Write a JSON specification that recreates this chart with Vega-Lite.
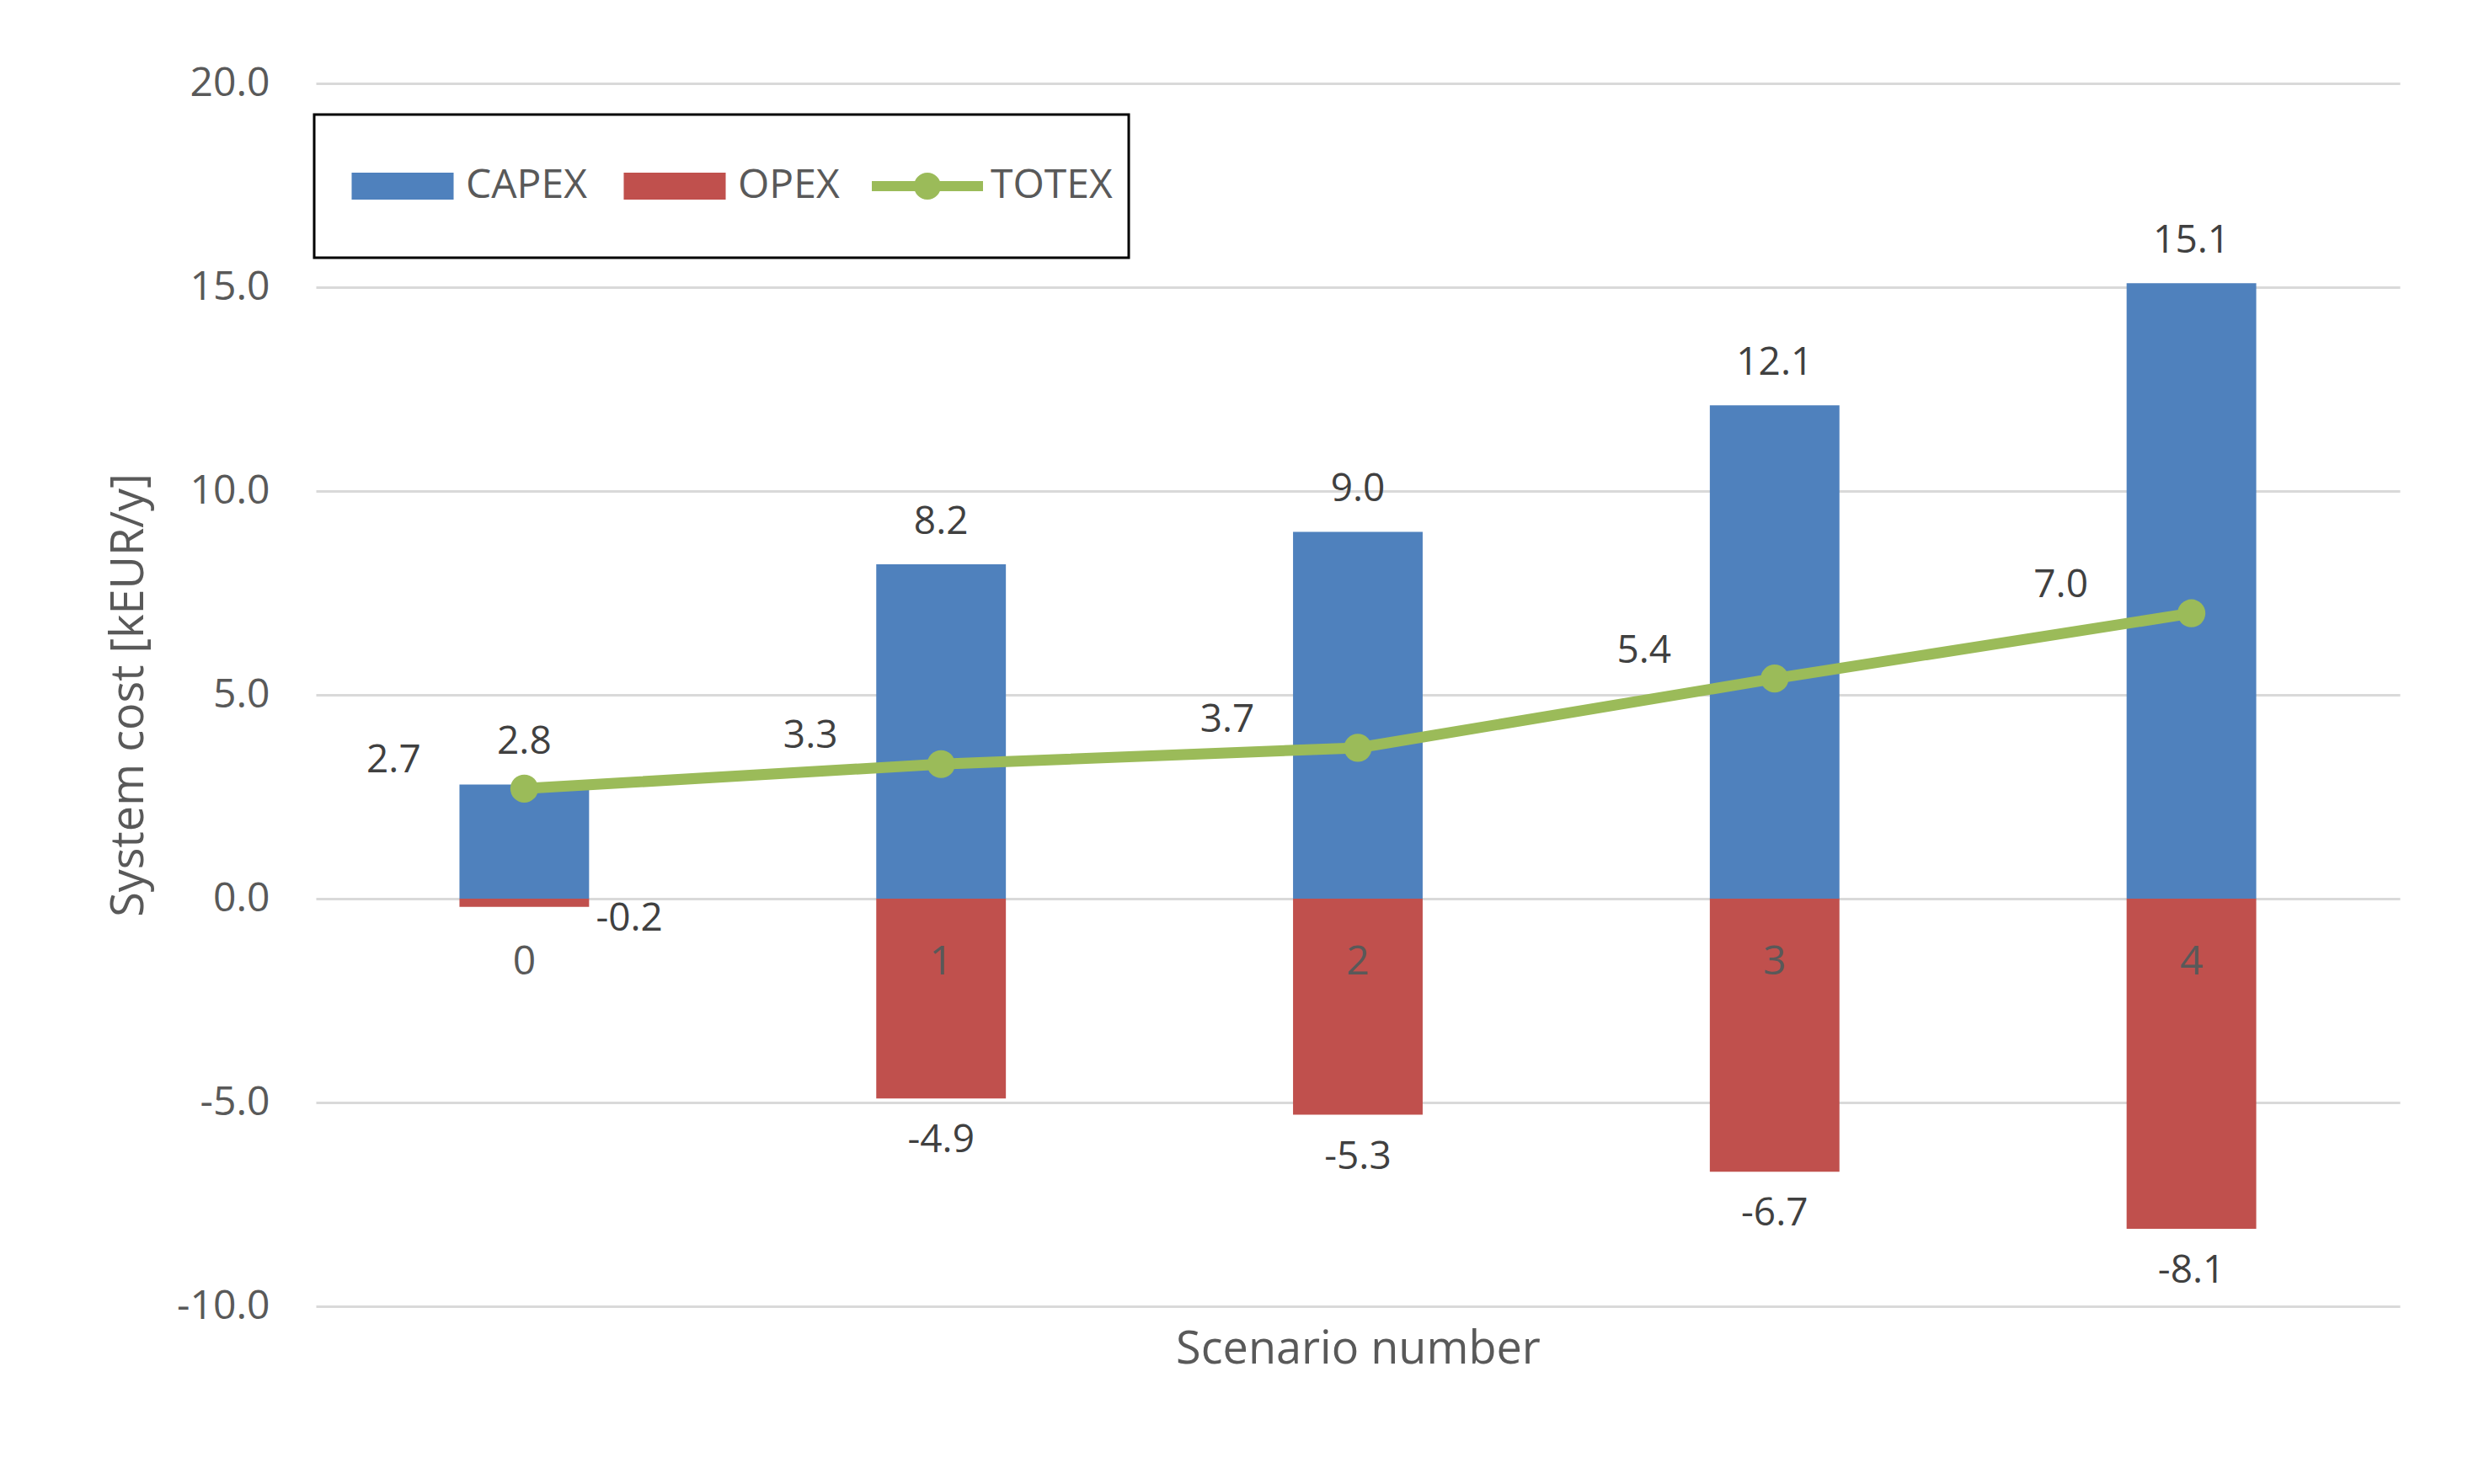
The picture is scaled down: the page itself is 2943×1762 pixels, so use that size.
{
  "$schema": "https://vega.github.io/schema/vega-lite/v6.json",
  "autosize": {"type": "none"},
  "width": 2474,
  "height": 1452,
  "padding": {"left": 375, "top": 99, "right": 94, "bottom": 211},
  "background": "white",
  "config": {
    "font": "Open Sans",
    "view": {"stroke": null},
    "locale": {
      "number": {"decimal": ".", "thousands": ",", "grouping": [3], "currency": ["", ""], "minus": "-"}
    }
  },
  "data": {
    "values": [
      {"scenario": "0", "series": "CAPEX", "value": 2.8},
      {"scenario": "1", "series": "CAPEX", "value": 8.2},
      {"scenario": "2", "series": "CAPEX", "value": 9.0},
      {"scenario": "3", "series": "CAPEX", "value": 12.1},
      {"scenario": "4", "series": "CAPEX", "value": 15.1},
      {"scenario": "0", "series": "OPEX", "value": -0.2},
      {"scenario": "1", "series": "OPEX", "value": -4.9},
      {"scenario": "2", "series": "OPEX", "value": -5.3},
      {"scenario": "3", "series": "OPEX", "value": -6.7},
      {"scenario": "4", "series": "OPEX", "value": -8.1},
      {"scenario": "0", "series": "TOTEX", "value": 2.7},
      {"scenario": "1", "series": "TOTEX", "value": 3.3},
      {"scenario": "2", "series": "TOTEX", "value": 3.7},
      {"scenario": "3", "series": "TOTEX", "value": 5.4},
      {"scenario": "4", "series": "TOTEX", "value": 7.0}
    ]
  },
  "encoding": {
    "x": {
      "field": "scenario",
      "type": "nominal",
      "sort": null,
      "scale": {"paddingInner": 0.689, "paddingOuter": 0.3445},
      "axis": {
        "title": "Scenario number",
        "labelAngle": 0,
        "offset": -485,
        "domain": false,
        "ticks": false,
        "labelPadding": 52,
        "labelFontSize": 48,
        "labelColor": "#595959",
        "titleFontSize": 54,
        "titleFontWeight": "normal",
        "titleColor": "#595959",
        "titlePadding": 409,
        "zindex": 1
      }
    },
    "y": {
      "field": "value",
      "type": "quantitative",
      "stack": null,
      "scale": {"domain": [-10, 20], "nice": false},
      "axis": {
        "title": "System cost [kEUR/y]",
        "values": [-10, -5, 0, 5, 10, 15, 20],
        "format": ".1f",
        "domain": false,
        "ticks": false,
        "labelPadding": 55,
        "labelFontSize": 48,
        "labelColor": "#595959",
        "gridColor": "#D9D9D9",
        "gridWidth": 3,
        "titleFontSize": 54,
        "titleFontWeight": "normal",
        "titleColor": "#595959",
        "titlePadding": 29
      }
    },
    "color": {
      "field": "series",
      "type": "nominal",
      "scale": {"domain": ["CAPEX", "OPEX", "TOTEX"], "range": ["#4F81BD", "#C0504D", "#9BBB59"]},
      "legend": {
        "title": " ",
        "titleOrient": "left",
        "titleFontSize": 1,
        "titlePadding": 20,
        "orient": "none",
        "direction": "horizontal",
        "legendX": -2,
        "legendY": 37,
        "symbolSize": 17424,
        "symbolOpacity": 1,
        "symbolStrokeWidth": 0,
        "labelFontSize": 48,
        "labelColor": "#595959",
        "labelOffset": 9,
        "columnPadding": 38,
        "padding": 19,
        "encode": {
          "legend": {
            "update": {
              "stroke": {"value": "black"},
              "strokeWidth": {"value": 3},
              "fill": {"value": "white"}
            }
          },
          "symbols": {
            "update": {
              "shape": {"signal": "datum.value === 'TOTEX' ? 'M0,-1L0,-1M0,1L0,1M-1,-0.09H1V0.09H-1Z M-0.242,0A0.242,0.242 0 1,1 0.242,0A0.242,0.242 0 1,1 -0.242,0Z' : 'M0,-1L0,-1M0,1L0,1M-0.917,-0.242H0.917V0.242H-0.917Z'"},
              "fill": {"scale": "color", "field": "value"},
              "stroke": {"value": "transparent"},
              "strokeWidth": {"value": 0},
              "opacity": {"value": 1}
            }
          }
        }
      }
    }
  },
  "layer": [
    {
      "transform": [{"filter": "datum.series !== 'TOTEX'"}],
      "mark": {"type": "bar"}
    },
    {
      "transform": [{"filter": "datum.series === 'TOTEX'"}],
      "mark": {"type": "line", "strokeWidth": 13, "strokeCap": "round", "point": {"filled": true, "size": 1100, "opacity": 1}}
    },
    {
      "transform": [{"filter": "datum.series === 'CAPEX'"}],
      "mark": {"type": "text", "dy": -50, "baseline": "middle", "fontSize": 46, "color": "#404040"},
      "encoding": {"text": {"field": "value", "type": "quantitative", "format": ".1f"}, "color": {"value": "#404040"}}
    },
    {
      "transform": [{"filter": "datum.series === 'OPEX' && datum.value < -1"}],
      "mark": {"type": "text", "dy": 50, "baseline": "middle", "fontSize": 46, "color": "#404040"},
      "encoding": {"text": {"field": "value", "type": "quantitative", "format": ".1f"}, "color": {"value": "#404040"}}
    },
    {
      "transform": [{"filter": "datum.series === 'OPEX' && datum.value >= -1"}],
      "mark": {"type": "text", "dx": 85, "dy": 14, "align": "left", "baseline": "middle", "fontSize": 46, "color": "#404040"},
      "encoding": {"text": {"field": "value", "type": "quantitative", "format": ".1f"}, "color": {"value": "#404040"}}
    },
    {
      "transform": [{"filter": "datum.series === 'TOTEX'"}],
      "mark": {"type": "text", "dx": -155, "dy": -33, "baseline": "middle", "fontSize": 46, "color": "#404040"},
      "encoding": {"text": {"field": "value", "type": "quantitative", "format": ".1f"}, "color": {"value": "#404040"}}
    }
  ]
}
